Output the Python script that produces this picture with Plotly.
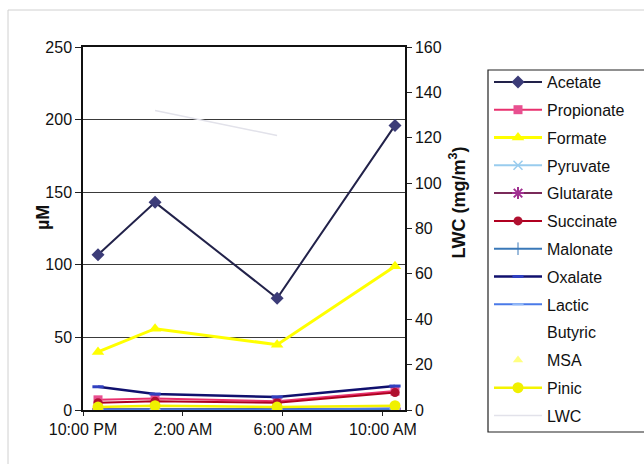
import plotly.graph_objects as go

# Sampling times (overnight event) and tick labels
times = ["2000-01-01 22:36", "2000-01-02 00:53", "2000-01-02 05:46", "2000-01-02 10:29"]
tick_times = ["2000-01-01 22:00", "2000-01-02 02:00", "2000-01-02 06:00", "2000-01-02 10:00"]
tick_labels = ["10:00 PM", "2:00 AM", "6:00 AM", "10:00 AM"]

# Concentrations in µM
acetate = [107, 143, 77, 196]
propionate = [7, 8, 6, 13]
formate = [40, 56, 45, 99]
pyruvate = [0.3, 0.3, 0.3, 0.5]
glutarate = [0.5, 0.5, 0.5, 0.8]
succinate = [5, 6, 5, 12]
malonate = [0.4, 0.4, 0.4, 0.6]
oxalate = [16, 11, 9, 16.5]
lactic = [0.2, 0.2, 0.2, 1.0]
butyric = [0, 0, 0, 0]
msa = [1, 1, 1, 1]
pinic = [2, 3, 2, 3]

# Liquid water content (mg/m3), right axis
lwc_times = ["2000-01-02 00:53", "2000-01-02 05:46"]
lwc = [132, 121]

W, H = 644, 464
L, R, T, B = 83, 405, 47, 410
FONT = "Arial, Liberation Sans, sans-serif"


def px_x(p):
    return (p - L) / (R - L)


def px_y(p):
    return (B - p) / (B - T)


series = [
    ("Acetate", acetate, dict(color="#22224a", width=2), dict(symbol="diamond", size=10, color="#3c3c78")),
    ("Propionate", propionate, dict(color="#e8306e", width=2), dict(symbol="square", size=9, color="#e85090")),
    ("Formate", formate, dict(color="#ffff00", width=3), dict(symbol="triangle-up", size=11, color="#ffff00")),
    ("Pyruvate", pyruvate, dict(color="#99ccee", width=2), dict(symbol="x-thin-open", size=9, color="#99ccee", line=dict(width=1.5, color="#99ccee"))),
    ("Glutarate", glutarate, dict(color="#7a2a5a", width=2), dict(symbol="asterisk-open", size=10, color="#a03090", line=dict(width=2, color="#a03090"))),
    ("Succinate", succinate, dict(color="#b00020", width=2), dict(symbol="circle", size=9, color="#b01030")),
    ("Malonate", malonate, dict(color="#3a78b8", width=2), dict(symbol="line-ns-open", size=9, color="#3a78b8", line=dict(width=1, color="#3a78b8"))),
    ("Oxalate", oxalate, dict(color="#10106e", width=2.5), dict(symbol="line-ew-open", size=8, color="#3040c0", line=dict(width=3, color="#3040c0"))),
    ("Lactic", lactic, dict(color="#4a7ae8", width=2), dict(symbol="line-ew-open", size=8, color="#90b8f8", line=dict(width=2, color="#90b8f8"))),
]

fig = go.Figure()

for name, vals, line, marker in series:
    fig.add_trace(go.Scatter(x=times, y=vals, name=name, mode="lines+markers",
                             line=line, marker=marker, legendgroup=name))

fig.add_trace(go.Scatter(x=times, y=butyric, name="Butyric", mode="lines",
                         line=dict(color="rgba(255,255,255,0)", width=2), legendgroup="Butyric"))
fig.add_trace(go.Scatter(x=times, y=msa, name="MSA", mode="markers",
                         marker=dict(symbol="triangle-up", size=9, color="#ffff80"), legendgroup="MSA"))
fig.add_trace(go.Scatter(x=times, y=pinic, name="Pinic", mode="lines+markers",
                         line=dict(color="#f4f400", width=2.5),
                         marker=dict(symbol="circle", size=11, color="#f0f000"), legendgroup="Pinic"))
fig.add_trace(go.Scatter(x=lwc_times, y=lwc, name="LWC", mode="lines", yaxis="y2",
                         line=dict(color="#e2e2ea", width=1.5), legendgroup="LWC"))

axis_font = dict(family=FONT, size=16, color="#111")

fig.update_layout(
    width=W, height=H,
    paper_bgcolor="white", plot_bgcolor="white",
    margin=dict(l=L, r=W - R, t=T, b=H - B, autoexpand=False),
    showlegend=True,
    xaxis=dict(
        type="date",
        range=["2000-01-01 22:00", "2000-01-02 10:53"],
        tickvals=tick_times, ticktext=tick_labels,
        ticks="outside", ticklen=4, tickcolor="#222",
        showgrid=False, zeroline=False,
        showline=True, linecolor="#111", linewidth=1.5, mirror=True,
        tickfont=axis_font,
    ),
    yaxis=dict(
        range=[0, 250], dtick=50,
        ticks="outside", ticklen=6, tickcolor="#222",
        showgrid=True, gridcolor="#3a3a3a", gridwidth=1,
        zeroline=False,
        showline=True, linecolor="#111", linewidth=1.5,
        tickfont=axis_font,
    ),
    yaxis2=dict(
        range=[0, 160], dtick=20, overlaying="y", side="right",
        ticks="outside", ticklen=5, tickcolor="#222",
        showgrid=False, zeroline=False,
        showline=True, linecolor="#111", linewidth=1.5,
        tickfont=axis_font,
    ),
    legend=dict(
        x=px_x(489), y=px_y(65), xanchor="left", yanchor="top",
        bgcolor="rgba(0,0,0,0)", borderwidth=0,
        font=dict(family=FONT, size=16, color="#111"),
        tracegroupgap=4,
        itemwidth=48,
        maxheight=460,
        itemclick=False,
    ),
    shapes=[
        # legend frame (runs off the right edge)
        dict(type="rect", xref="paper", yref="paper",
             x0=px_x(488), x1=px_x(700), y0=px_y(432), y1=px_y(70),
             line=dict(color="#222", width=1.2), layer="below"),
        # faint outer chart frame
        dict(type="rect", xref="paper", yref="paper",
             x0=px_x(8), x1=px_x(700), y0=px_y(520), y1=px_y(10),
             line=dict(color="#d0d0d0", width=1), layer="below"),
    ],
    annotations=[
        dict(text="<b>µM</b>", xref="paper", yref="paper", x=px_x(31), y=px_y(218),
             textangle=-90, showarrow=False, font=dict(family=FONT, size=18, color="#111")),
        dict(text="<b>LWC (mg/m<sup>3</sup>)</b>", xref="paper", yref="paper", x=px_x(471), y=px_y(203),
             textangle=-90, showarrow=False, font=dict(family=FONT, size=18, color="#111")),
    ],
)

fig.write_html("out.html")
